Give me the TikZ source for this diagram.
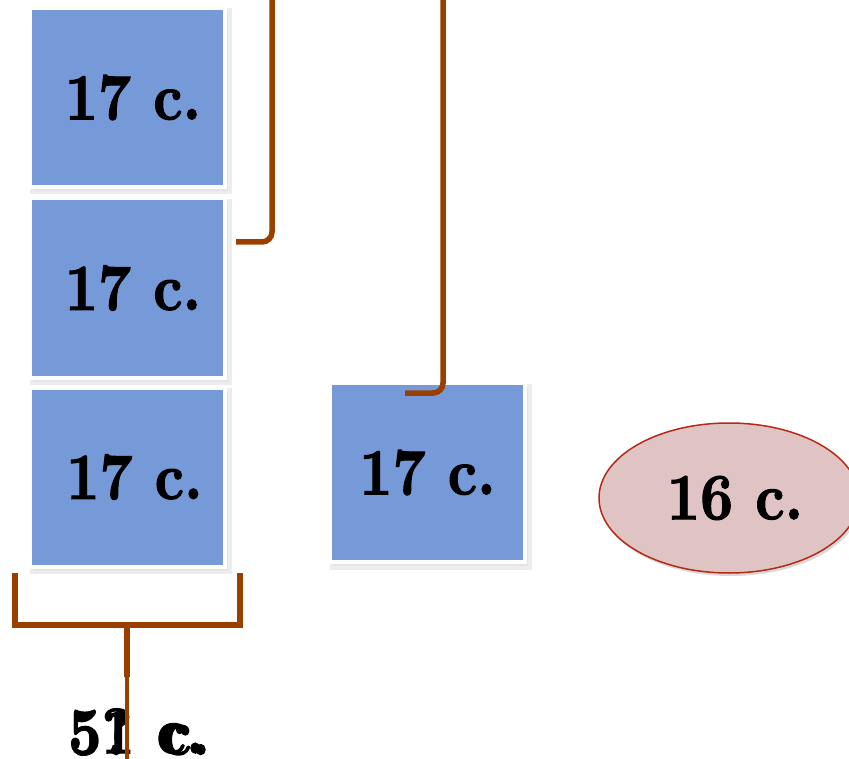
\documentclass[tikz,border=0pt]{standalone}
\usepackage{fontspec}
\usepackage{graphicx}
\usetikzlibrary{shadows,shapes.geometric}
\newfontfamily\heavy{lmroman10-bold.otf}[FakeBold=1.6]
\definecolor{boxblue}{RGB}{118,153,216}
\definecolor{brk}{RGB}{155,63,0}
\definecolor{ellfill}{RGB}{224,196,196}
\definecolor{elldraw}{RGB}{180,42,22}
\newcommand{\lbl}[1]{\scalebox{1.03}[1.18]{\fontsize{56}{60}\heavy #1}}
\tikzset{
  bluebox/.style={rectangle, fill=boxblue, draw=white, line width=4pt,
    minimum width=195pt, minimum height=179pt, inner sep=0pt,
    drop shadow={shadow xshift=3pt, shadow yshift=-4pt, fill=black!14, draw=black!14, line width=7pt}},
  brkline/.style={draw=brk, line width=5.5pt},
  txt/.style={inner sep=0pt, text=black}
}
\begin{document}
\begin{tikzpicture}[x=1pt,y=-1pt]
\useasboundingbox (0,0) rectangle (849,759);
\clip (0,0) rectangle (849,759);
% boxes
\node[bluebox] (b1) at (127.5,97.5) {\hspace*{11pt}\lbl{17 c.}};
\node[bluebox] (b2) at (127.5,288) {\hspace*{11pt}\lbl{17 c.}};
\node[bluebox] (b3) at (127.5,477) {\hspace*{14pt}\lbl{17 c.}};
\node[bluebox] (b4) at (427.5,472.5) {\lbl{17 c.}};
\node[ellipse, fill=ellfill, draw=elldraw, line width=1.5pt,
  minimum width=260pt, minimum height=150pt, inner sep=0pt,
  drop shadow={shadow xshift=2pt, shadow yshift=-3pt, opacity=0.15, fill=black}]
  (e) at (729,498) {\hspace*{12pt}\lbl{16 c.}};
% bottom labels (overlaid)
\node[txt, anchor=west] (t1) at (68,732) {\lbl{51 c.}};
\node[txt, anchor=west] (t2) at (68,732) {\lbl{5? c.}};
% connectors
\coordinate (topA) at (272,0);
\coordinate (endA) at (236,242);
\coordinate (topB) at (443,0);
\coordinate (endB) at (405,393);
\draw[brkline, rounded corners=10pt] (topA) |- (endA);
\draw[brkline, rounded corners=10pt] (topB) |- (endB);
% bottom bracket
\coordinate (bl) at (15,573);
\coordinate (br) at (240,573);
\coordinate (bm) at (127,625);
\coordinate (bs) at (127,677);
\coordinate (bend) at (127,759);
\draw[brkline] (bl) |- (bm) -| (br);
\draw[brkline] (bm) -- (bs);
\draw[draw=brk, line width=3.5pt] (bs) -- (bend);
\end{tikzpicture}
\end{document}
